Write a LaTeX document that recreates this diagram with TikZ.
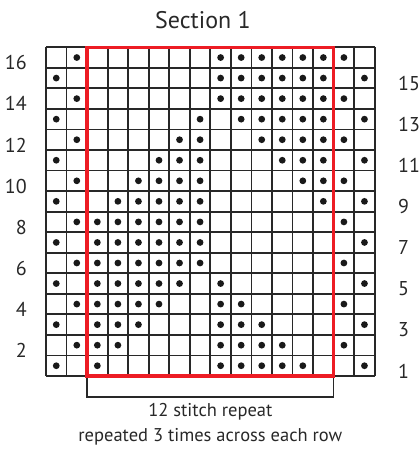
\documentclass[tikz,border=0pt]{standalone}
\usepackage{fontspec}
\setmainfont{PT Sans}
\usetikzlibrary{positioning}

\definecolor{repeatred}{RGB}{237,28,36}
\definecolor{inkgray}{RGB}{40,40,40}

\tikzset{
  chartline/.style={line width=1.8pt, inkgray},
  stitchdot/.style={fill=black!90},
  rownum/.style={inner sep=0pt, text=inkgray, font=\fontsize{20}{24}\selectfont},
  notetext/.style={inner sep=0pt, anchor=base, text=inkgray, font=\fontsize{18.5}{22}\selectfont}
}

\begin{document}
\begin{tikzpicture}[x=20.55pt, y=20.55pt]
\useasboundingbox (-2.238,-3.65) rectangle (18.2,18.30);
\def\ncol{16}
\def\nrow{16}
\def\dotr{0.165}
\def\bracketDrop{1.02}

% chart grid
\foreach \i in {0,...,\ncol}
  \draw[chartline] (\i,0) -- (\i,\nrow);
\foreach \j in {0,...,\nrow}
  \draw[chartline] (0,\j) -- (\ncol,\j);

% purl dots, row by row from the bottom
\foreach \r/\cols in {
    1/{1,3,9,10,11,12,13,16},
    2/{2,3,4,9,10,11,12,15},
    3/{1,3,4,5,9,10,11,16},
    4/{2,3,4,5,6,9,10,15},
    5/{1,3,4,5,6,7,9,16},
    6/{2,3,4,5,6,7,8,15},
    7/{1,3,4,5,6,7,8,16},
    8/{2,3,4,5,6,7,8,15},
    9/{1,4,5,6,7,8,14,16},
    10/{2,5,6,7,8,13,14,15},
    11/{1,6,7,8,12,13,14,16},
    12/{2,7,8,11,12,13,14,15},
    13/{1,8,10,11,12,13,14,16},
    14/{2,9,10,11,12,13,14,15},
    15/{1,9,10,11,12,13,14,16},
    16/{2,9,10,11,12,13,14,15}} {
  \foreach \c in \cols {
    \fill[stitchdot] (\c-0.5,\r-0.5) circle (\dotr);
  }
}

% bracket under the repeat
\coordinate (repL) at (2,0);
\coordinate (repR) at (14,0);
\draw[line width=1.4pt, inkgray] (repL) -- ++(0,-\bracketDrop) -| (repR);

% 12 stitch repeat box
\draw[repeatred, line width=3.2pt] (repL) rectangle (14,\nrow);

% row numbers
\foreach \r in {2,4,...,16}
  \node[rownum, anchor=base east] (row\r) at (-0.925,\r-1.1) {\r};
\foreach \r in {1,3,...,15}
  \node[rownum, anchor=base west] (row\r) at (17.13,\r-1.1) {\r};

\node[inner sep=0pt, anchor=base, text=inkgray, font=\fontsize{24}{28}\selectfont]
  (title) at (7.64,16.89) {Section 1};
\node[notetext] (repnote) at (8,-1.98) {12 stitch repeat};
\node[notetext] (timesnote) at (8,-3.2) {repeated 3 times across each row};
\end{tikzpicture}
\end{document}
